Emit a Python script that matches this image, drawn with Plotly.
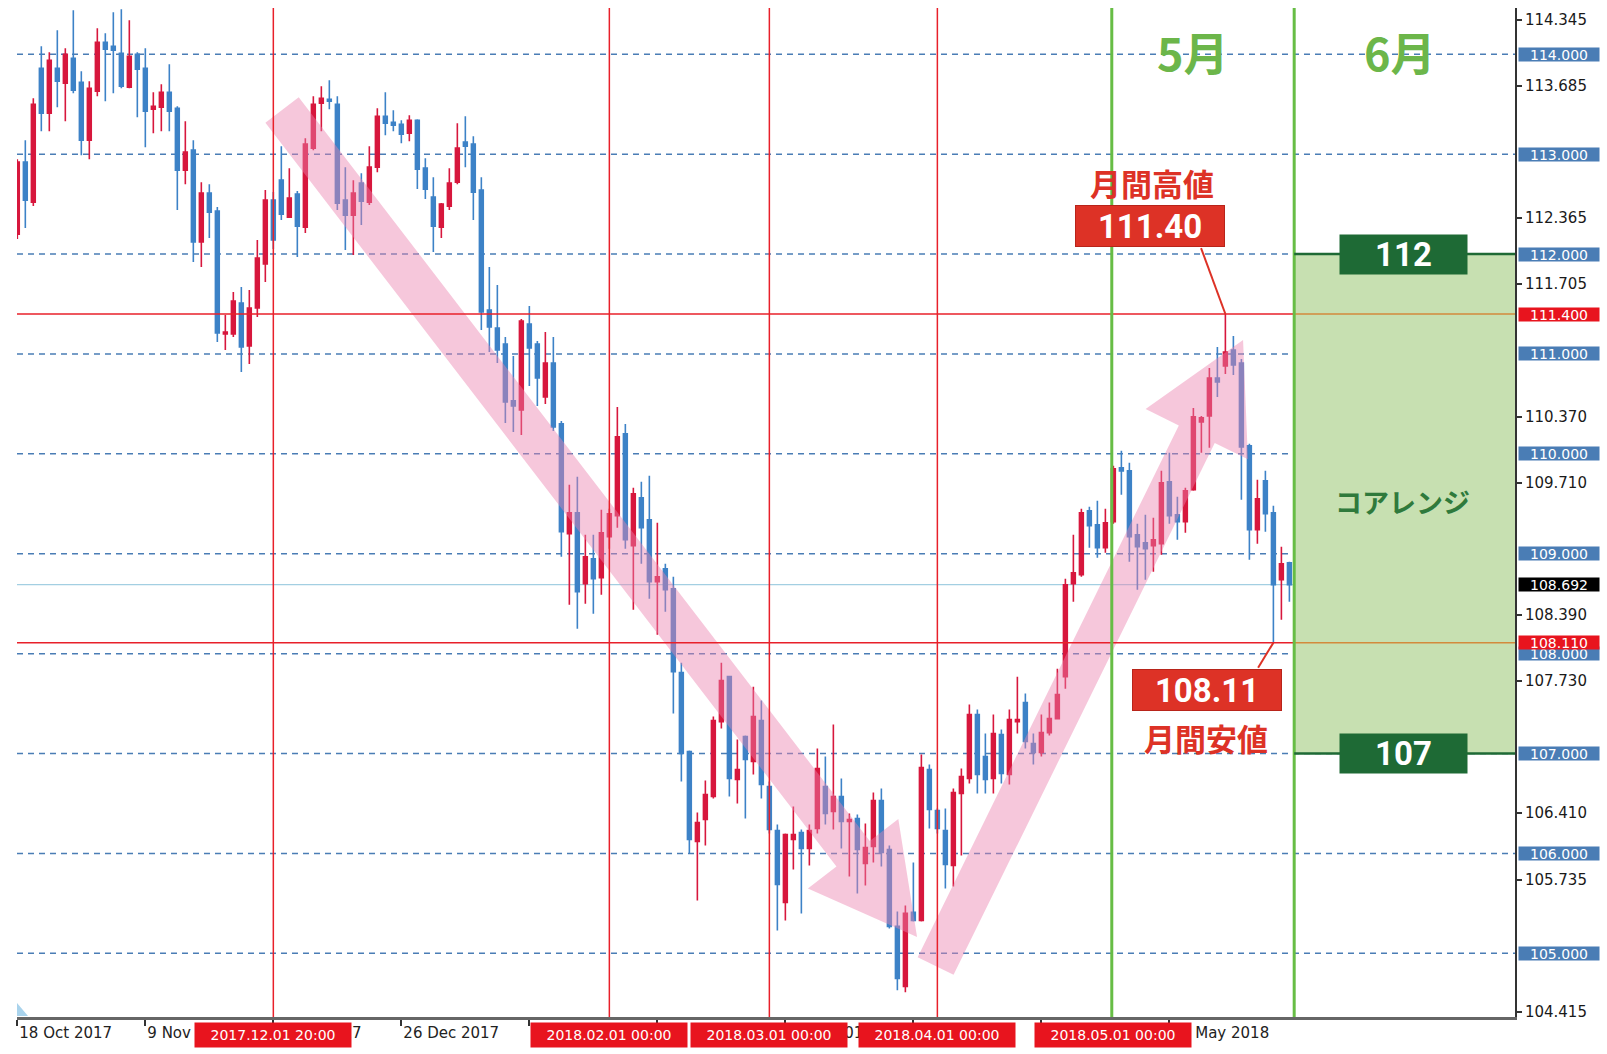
import math
import pandas as pd
import plotly.graph_objects as go

# ---------------- data ----------------
TRADING_DAYS = [d for d in pd.bdate_range("2017-10-18", "2018-05-31")
                if (d.month, d.day) not in ((12, 25), (1, 1))]

OPEN = [112.20, 112.92, 112.52, 113.86, 113.41, 113.86, 113.71, 113.96, 113.72, 113.14,
        113.63, 114.12, 114.08, 114.01, 113.67, 114.00, 113.86, 113.45, 113.47, 113.62,
        113.46, 112.84, 113.04, 112.12, 112.61, 112.43, 111.20, 111.20, 111.51, 111.08,
        111.46, 111.90, 112.54, 112.74, 112.37, 112.60, 112.27, 113.06, 113.51, 113.55,
        113.50, 112.54, 112.39, 112.71, 112.52, 112.87, 113.38, 113.32, 113.30, 113.21,
        113.34, 112.86, 112.57, 112.27, 112.48, 112.72, 113.12, 113.10, 112.64, 111.44,
        111.26, 111.10, 110.53, 110.44, 111.30, 111.10, 110.57, 110.91, 110.30, 109.20,
        109.41, 108.70, 108.95, 108.76, 109.17, 109.38, 110.20, 109.08, 109.56, 109.34,
        108.72, 108.85, 108.65, 107.81, 107.02, 106.12, 106.34, 106.57, 107.32, 107.77,
        106.74, 107.17, 106.92, 107.33, 106.67, 106.23, 105.51, 106.14, 106.21, 106.05,
        106.25, 106.67, 106.42, 106.57, 106.32, 106.35, 105.90, 106.07, 106.53, 106.04,
        105.27, 104.67, 105.41, 105.33, 106.84, 106.43, 106.23, 105.88, 106.60, 106.75,
        107.39, 106.97, 106.75, 107.19, 106.79, 107.32, 107.51, 107.10, 107.01, 107.21,
        107.35, 107.77, 108.70, 108.79, 109.43, 109.29, 109.06, 109.32, 109.86, 109.83,
        109.19, 109.11, 109.08, 109.10, 109.72, 109.39, 109.32, 109.64, 110.32, 110.38,
        110.76, 110.88, 111.04, 110.91, 110.08, 109.24, 109.73, 109.41, 108.74, 108.91]
HIGH = [112.95, 113.14, 113.56, 114.08, 114.02, 114.24, 114.06, 114.44, 113.83, 113.73,
        114.26, 114.21, 114.42, 114.45, 114.34, 114.02, 114.06, 113.62, 113.70, 113.90,
        113.48, 113.33, 113.14, 112.72, 112.70, 112.47, 111.39, 111.62, 111.67, 111.64,
        112.14, 112.64, 112.62, 113.08, 112.86, 112.63, 113.16, 113.58, 113.68, 113.74,
        113.58, 112.87, 112.74, 112.81, 113.08, 113.46, 113.62, 113.44, 113.34, 113.39,
        113.35, 112.96, 112.77, 112.51, 112.86, 113.31, 113.38, 113.18, 112.77, 111.87,
        111.69, 111.17, 110.98, 111.35, 111.48, 111.13, 111.22, 111.17, 110.33, 109.69,
        109.77, 109.19, 109.19, 109.44, 109.45, 110.47, 110.30, 109.66, 109.72, 109.78,
        109.31, 108.90, 108.77, 107.91, 107.03, 106.41, 106.73, 107.37, 107.91, 107.78,
        107.14, 107.18, 107.67, 107.53, 106.72, 106.29, 106.20, 106.47, 106.24, 106.29,
        107.05, 106.97, 107.29, 106.75, 106.40, 106.39, 106.30, 106.61, 106.65, 106.08,
        105.42, 105.48, 105.91, 106.99, 106.89, 106.45, 106.45, 106.65, 106.85, 107.49,
        107.44, 107.20, 107.39, 107.24, 107.44, 107.77, 107.60, 107.20, 107.39, 107.51,
        107.85, 108.75, 109.19, 109.45, 109.47, 109.53, 109.45, 109.88, 110.03, 109.91,
        109.30, 109.39, 109.36, 109.83, 110.01, 109.57, 109.66, 110.46, 110.38, 110.86,
        111.07, 111.40, 111.18, 110.95, 110.10, 109.74, 109.83, 109.48, 109.07, 108.92]
LOW = [112.15, 112.26, 112.48, 113.23, 113.23, 113.47, 113.33, 113.61, 112.99, 112.95,
       113.58, 113.53, 113.61, 113.66, 113.66, 113.37, 113.07, 113.21, 113.23, 113.23,
       112.44, 112.70, 111.92, 111.87, 112.16, 111.12, 111.04, 111.17, 110.82, 110.90,
       111.37, 111.72, 112.05, 112.34, 112.36, 111.97, 112.21, 113.04, 113.23, 113.45,
       112.44, 112.04, 111.99, 112.29, 112.49, 112.82, 113.19, 113.23, 113.11, 113.13,
       112.65, 112.55, 112.02, 112.16, 112.44, 112.70, 112.87, 112.34, 111.24, 111.02,
       110.91, 110.31, 110.22, 110.19, 110.68, 110.48, 110.50, 110.23, 108.97, 108.49,
       108.25, 108.50, 108.40, 108.59, 109.05, 109.26, 109.05, 108.44, 108.90, 108.55,
       108.19, 108.42, 107.40, 106.72, 106.00, 105.53, 106.08, 106.55, 107.25, 106.57,
       106.50, 106.35, 106.79, 106.55, 106.20, 105.23, 105.33, 105.84, 105.40, 105.88,
       106.20, 106.29, 106.24, 106.05, 105.77, 105.60, 105.68, 105.91, 105.87, 105.25,
       104.63, 104.61, 105.32, 105.32, 106.25, 106.20, 105.65, 105.67, 105.98, 106.70,
       106.60, 106.60, 106.60, 106.70, 106.69, 107.20, 107.05, 106.89, 106.97, 107.18,
       107.34, 107.65, 108.52, 108.77, 109.06, 108.96, 109.01, 109.30, 109.59, 108.92,
       108.64, 108.74, 108.82, 108.99, 109.30, 109.14, 109.21, 109.63, 110.01, 110.06,
       110.57, 110.80, 110.79, 109.54, 108.94, 109.10, 109.22, 108.11, 108.34, 108.52]
CLOSE = [112.92, 112.54, 113.50, 113.41, 113.94, 113.73, 114.00, 113.64, 113.14, 113.66,
         114.12, 114.05, 114.04, 113.68, 113.98, 113.85, 113.43, 113.48, 113.62, 113.43,
         112.84, 113.02, 112.12, 112.61, 112.42, 111.21, 111.22, 111.53, 111.07, 111.46,
         111.96, 112.54, 112.14, 112.40, 112.56, 112.28, 113.10, 113.50, 113.56, 113.53,
         112.51, 112.39, 112.61, 112.53, 112.87, 113.38, 113.31, 113.29, 113.20, 113.34,
         112.85, 112.65, 112.28, 112.50, 112.71, 113.06, 113.08, 112.62, 111.42, 111.27,
         111.04, 110.52, 110.48, 111.33, 111.06, 110.76, 110.91, 110.27, 109.22, 109.41,
         108.62, 108.97, 108.75, 109.21, 109.40, 110.17, 109.14, 109.60, 109.26, 108.72,
         108.77, 108.64, 107.82, 107.00, 106.14, 106.31, 106.59, 107.33, 107.73, 106.75,
         106.84, 106.94, 107.37, 106.69, 106.24, 105.69, 106.19, 106.19, 106.05, 106.23,
         106.85, 106.40, 106.57, 106.32, 106.34, 106.04, 106.06, 106.53, 106.01, 105.27,
         104.75, 105.40, 105.33, 106.86, 106.44, 106.25, 105.89, 106.61, 106.77, 107.39,
         106.79, 106.74, 107.20, 106.80, 107.34, 107.34, 107.12, 107.01, 107.21, 107.35,
         107.59, 108.69, 108.81, 109.41, 109.28, 109.06, 109.31, 109.85, 109.83, 109.17,
         109.07, 109.05, 109.14, 109.71, 109.38, 109.32, 109.63, 110.37, 110.36, 110.76,
         110.72, 111.02, 110.89, 110.07, 109.24, 109.55, 109.40, 108.69, 108.90, 108.69]

AXIS_TICKS = [114.345, 113.685, 112.365, 111.705, 110.370, 109.710,
              108.390, 107.730, 106.410, 105.735, 104.415]
ROUND_LEVELS = [114.0, 113.0, 112.0, 111.0, 110.0, 109.0, 108.0, 107.0, 106.0, 105.0]
MONTH_HIGH = 111.40
MONTH_LOW = 108.11
LAST_PRICE = 108.692
CORE_RANGE = [107.0, 112.0]
TICK_BARS = [0, 16, 32, 48, 64, 80, 96, 112, 128, 144]
HIDDEN_TICK_BARS = [64, 80, 112, 128]   # labels fully covered by separator boxes
SEPARATOR_LABELS = ["2017.12.01 20:00", "2018.02.01 00:00", "2018.03.01 00:00",
                    "2018.04.01 00:00", "2018.05.01 00:00"]
SEPARATOR_BARS = [32, 74, 94, 115, 137]
MONTH_TITLES = ["5月", "6月"]

# ---------------- geometry ----------------
W, H = 1607, 1054
ML, MR, MT, MB = 17, 92, 8, 37
PW, PH = W - ML - MR, H - MT - MB
XR = [-0.04, 187.2]
YR = [104.363, 114.463]
MAY_LINE, JUN_LINE = 136.8, 159.6

RED = "#e8202a"
CANDLE_UP = "#d7173d"
CANDLE_DN = "#3d82c7"
LEVEL_BLUE = "#4a7db5"
ANNOT_RED = "#dd3226"
DARK_GREEN = "#1e6a35"


def d2px(x, y):
    return (ML + (x - XR[0]) / (XR[1] - XR[0]) * PW,
            MT + (YR[1] - y) / (YR[1] - YR[0]) * PH)


def px2d(px, py):
    return (XR[0] + (px - ML) * (XR[1] - XR[0]) / PW,
            YR[1] - (py - MT) * (YR[1] - YR[0]) / PH)


def arrow_path(tail, tip, hw, head_hw, head_len):
    tx, ty = d2px(*tail)
    qx, qy = d2px(*tip)
    dx, dy = qx - tx, qy - ty
    L = math.hypot(dx, dy)
    ux, uy = dx / L, dy / L
    nx, ny = -uy, ux
    bx, by = qx - ux * head_len, qy - uy * head_len
    pts = [(tx + nx * hw, ty + ny * hw), (bx + nx * hw, by + ny * hw),
           (bx + nx * head_hw, by + ny * head_hw), (qx, qy),
           (bx - nx * head_hw, by - ny * head_hw), (bx - nx * hw, by - ny * hw),
           (tx - nx * hw, ty - ny * hw)]
    dpts = [px2d(px, py) for px, py in pts]
    return "M " + " L ".join(f"{x:.4f},{y:.4f}" for x, y in dpts) + " Z"


bars = list(range(len(OPEN)))

fig = go.Figure()
fig.add_trace(go.Candlestick(
    x=bars, open=OPEN, high=HIGH, low=LOW, close=CLOSE,
    increasing=dict(line=dict(color=CANDLE_UP, width=1.6), fillcolor=CANDLE_UP),
    decreasing=dict(line=dict(color=CANDLE_DN, width=1.6), fillcolor=CANDLE_DN),
    whiskerwidth=0, hoverinfo="skip", showlegend=False,
))

shapes = []
shapes.append(dict(type="rect", xref="x", yref="y", x0=JUN_LINE, x1=XR[1],
                   y0=CORE_RANGE[0], y1=CORE_RANGE[1], fillcolor="#c7e0b1",
                   line=dict(width=0), layer="below"))
for v in ROUND_LEVELS:
    shapes.append(dict(type="line", xref="paper", yref="y", x0=0, x1=1, y0=v, y1=v,
                       line=dict(color=LEVEL_BLUE, width=1.5, dash="6px,5px"), layer="below"))
shapes.append(dict(type="line", xref="paper", yref="y", x0=0, x1=1, y0=LAST_PRICE, y1=LAST_PRICE,
                   line=dict(color="#a3cfe2", width=1.2), layer="below"))
for tail, tip, hw in [((33.09, 113.442), (112.46, 105.164), 21),
                      ((114.78, 104.874), (153.21, 111.140), 20)]:
    shapes.append(dict(type="path", xref="x", yref="y", path=arrow_path(tail, tip, hw, 57, 105),
                       fillcolor="rgba(235,130,175,0.45)", line=dict(width=0), layer="above"))
for b in SEPARATOR_BARS[:4]:
    shapes.append(dict(type="line", xref="x", yref="paper", x0=b, x1=b, y0=0, y1=1,
                       line=dict(color=RED, width=1.5), layer="above"))
for v in (MONTH_HIGH, MONTH_LOW):
    shapes.append(dict(type="line", xref="x", yref="y", x0=XR[0], x1=JUN_LINE, y0=v, y1=v,
                       line=dict(color=RED, width=1.5), layer="above"))
    shapes.append(dict(type="line", xref="x", yref="y", x0=JUN_LINE, x1=XR[1], y0=v, y1=v,
                       line=dict(color="#d38a3c", width=1.5), layer="above"))
for b in (MAY_LINE, JUN_LINE):
    shapes.append(dict(type="line", xref="x", yref="paper", x0=b, x1=b, y0=0, y1=1,
                       line=dict(color="#67bd45", width=3), layer="above"))
for v in CORE_RANGE:
    shapes.append(dict(type="line", xref="x", yref="y", x0=JUN_LINE, x1=XR[1], y0=v, y1=v,
                       line=dict(color=DARK_GREEN, width=2.5), layer="above"))
shapes.append(dict(type="line", xref="x", yref="y", x0=147.96, y0=112.06, x1=151, y1=MONTH_HIGH,
                   line=dict(color=ANNOT_RED, width=2), layer="above"))
shapes.append(dict(type="line", xref="x", yref="y", x0=155.09, y0=107.86, x1=157, y1=MONTH_LOW,
                   line=dict(color=ANNOT_RED, width=2), layer="above"))
tri = [px2d(17, 1003), px2d(17, 1016), px2d(28, 1016)]
shapes.append(dict(type="path", xref="x", yref="y",
                   path="M " + " L ".join(f"{x:.4f},{y:.4f}" for x, y in tri) + " Z",
                   fillcolor="#a9d3ec", line=dict(width=0), layer="above"))

ann = []
AXFONT = dict(family="DejaVu Sans", size=14, color="#ffffff")
for v in ROUND_LEVELS:
    ann.append(dict(xref="paper", yref="y", x=1, y=v, xanchor="left", yanchor="middle", xshift=3,
                    text=f"{v:.3f}", showarrow=False, bgcolor=LEVEL_BLUE, font=AXFONT,
                    width=80, height=13, borderpad=0))
for v, bg in ((MONTH_HIGH, "#e8141e"), (MONTH_LOW, "#e8141e"), (LAST_PRICE, "#000000")):
    ann.append(dict(xref="paper", yref="y", x=1, y=v, xanchor="left", yanchor="middle", xshift=3,
                    text=f"{v:.3f}", showarrow=False, bgcolor=bg, font=AXFONT,
                    width=80, height=13, borderpad=0))
for b, t in zip(SEPARATOR_BARS, SEPARATOR_LABELS):
    ann.append(dict(xref="x", yref="paper", x=b, y=0, xanchor="center", yanchor="top", yshift=-5,
                    text=t, showarrow=False, bgcolor="#e8141e",
                    font=dict(family="DejaVu Sans", size=14, color="#ffffff"),
                    width=156, height=24, borderpad=0))

CJK = "Noto Sans CJK JP"
for x, t in zip((146.97, 172.8), MONTH_TITLES):
    ann.append(dict(xref="x", yref="y", x=x, y=114.03, text=t, showarrow=False,
                    font=dict(family=CJK, size=45, color="#6cb64a", weight=700)))
ann.append(dict(xref="x", yref="y", x=141.8, y=112.72, text="月間高値", showarrow=False,
                font=dict(family=CJK, size=31, color=ANNOT_RED, weight=700)))
ann.append(dict(xref="x", yref="y", x=148.6, y=107.16, text="月間安値", showarrow=False,
                font=dict(family=CJK, size=31, color=ANNOT_RED, weight=700)))
for x, y, v in ((141.6, 112.276, MONTH_HIGH), (148.68, 107.636, MONTH_LOW)):
    ann.append(dict(xref="x", yref="y", x=x, y=y, text=f"{v:.2f}", showarrow=False,
                    bgcolor=ANNOT_RED, bordercolor="#b8241a", borderwidth=1,
                    width=146, height=38, borderpad=1,
                    font=dict(family="Roboto", size=33, color="#ffffff", weight=700)))
for v in CORE_RANGE:
    ann.append(dict(xref="x", yref="y", x=173.3, y=v, text=f"{v:.0f}", showarrow=False,
                    bgcolor=DARK_GREEN, width=125, height=37, borderpad=1,
                    font=dict(family="Roboto", size=33, color="#ffffff", weight=700)))
ann.append(dict(xref="x", yref="y", x=173.2, y=109.52, text="コアレンジ", showarrow=False,
                font=dict(family=CJK, size=27, color="#2f7a3c", weight=700)))

tick_text = ["" if b in HIDDEN_TICK_BARS else f"{TRADING_DAYS[b].day} {TRADING_DAYS[b]:%b %Y}"
             for b in TICK_BARS]

fig.update_layout(
    width=W, height=H,
    margin=dict(l=ML, r=MR, t=MT, b=MB),
    paper_bgcolor="white", plot_bgcolor="white",
    showlegend=False, boxgap=0.52, boxgroupgap=0,
    shapes=shapes, annotations=ann,
    xaxis=dict(range=XR, rangeslider=dict(visible=False), showgrid=False, zeroline=False,
               tickmode="array", tickvals=TICK_BARS, ticktext=tick_text,
               ticks="outside", ticklen=6, tickwidth=1.5, tickcolor="#333",
               ticklabelposition="outside right",
               showline=True, linecolor="#666", linewidth=2.5,
               tickfont=dict(family="DejaVu Sans", size=15, color="#222")),
    yaxis=dict(range=YR, side="right", showgrid=False, zeroline=False,
               tickmode="array", tickvals=AXIS_TICKS, ticktext=[f"{v:.3f}" for v in AXIS_TICKS],
               ticks="outside", ticklen=5, tickwidth=1.5, tickcolor="#333",
               showline=True, linecolor="#333", linewidth=1.8,
               tickfont=dict(family="DejaVu Sans", size=15, color="#1a1a1a")),
)

fig.write_html("out.html")
